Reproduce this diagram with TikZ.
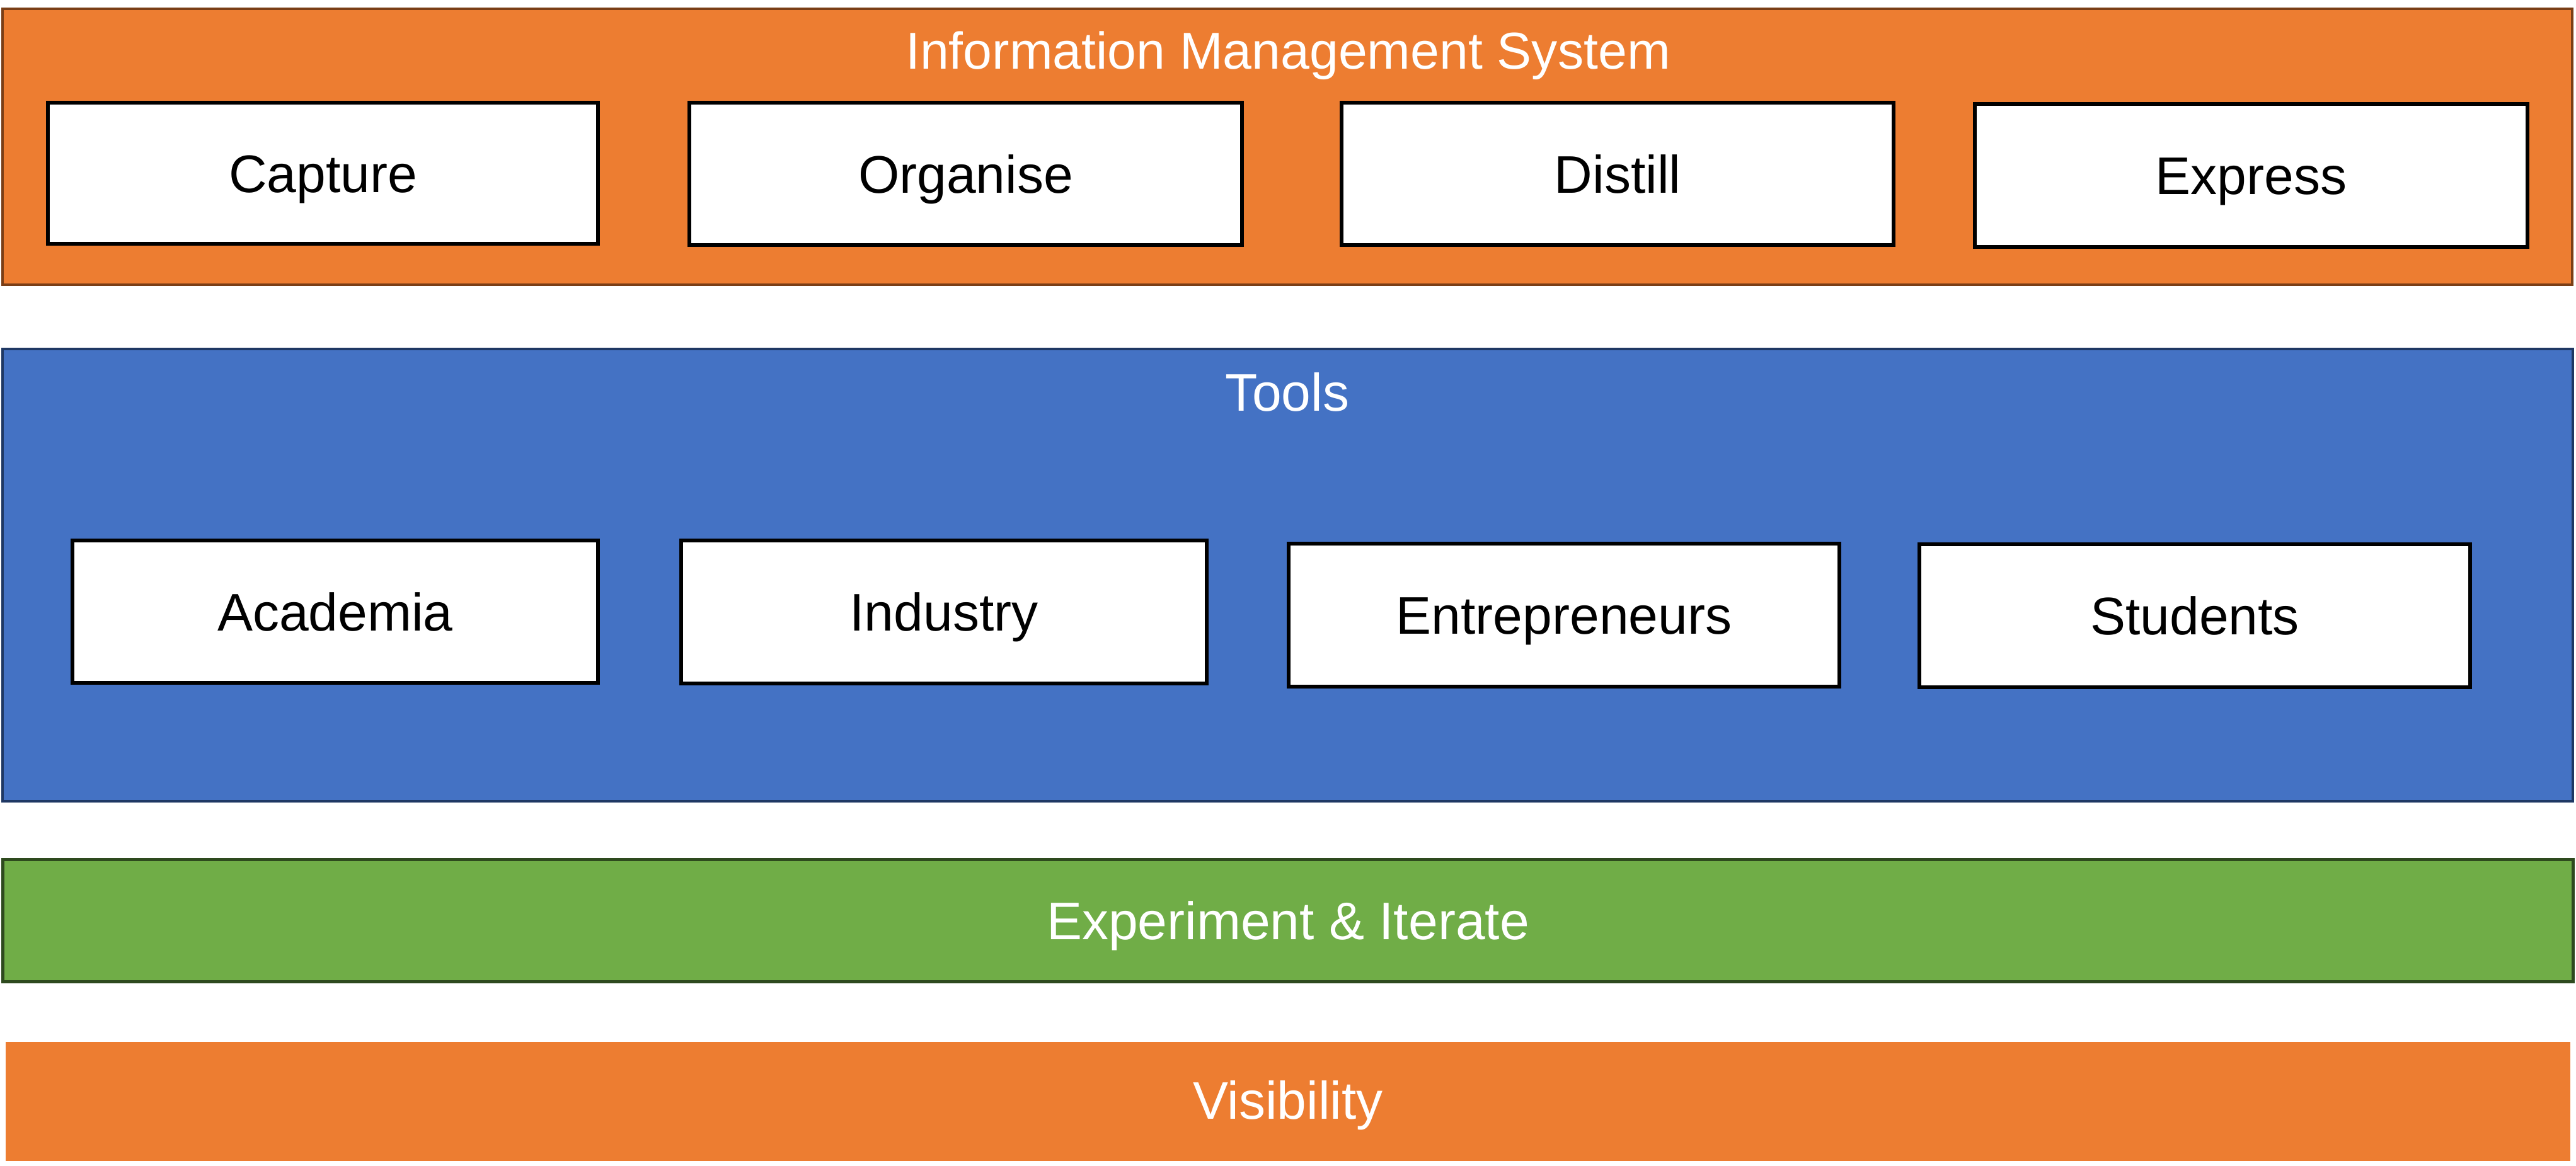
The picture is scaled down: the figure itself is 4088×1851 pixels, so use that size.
\documentclass[tikz,border=0pt]{standalone}
\usepackage{fontspec}
\setmainfont{Liberation Sans}
\usetikzlibrary{fit}
\definecolor{imsorange}{HTML}{ED7D31}
\definecolor{imsborder}{HTML}{7A3E16}
\definecolor{toolblue}{HTML}{4472C4}
\definecolor{toolborder}{HTML}{1F3864}
\definecolor{expgreen}{HTML}{70AD47}
\definecolor{expborder}{HTML}{2E4A1E}
\begin{document}
\begin{tikzpicture}[x=0.25pt,y=-0.25pt,
  every node/.style={font=\fontsize{21}{25}\selectfont},
  panel/.style={inner sep=0pt, rectangle},
  whitebox/.style={draw=black, fill=white, line width=1.3pt, inner sep=0pt,
     text height=15.04pt, text depth=0pt},
  midtext/.style={text=white, inner sep=0pt, text height=15.04pt, text depth=0pt},
  titletext/.style={text=white, anchor=base, inner sep=0pt}
]
\useasboundingbox (0,0) rectangle (4088,1851);
% panels
\node[panel, draw=imsborder, fill=imsorange, line width=1pt, fit={(4,14) (4082,452)}] (ims) {};
\node[panel, draw=toolborder, fill=toolblue, line width=1pt, fit={(4,554) (4083,1272)}] (tools) {};
\node[panel, draw=expborder, fill=expgreen, line width=1.25pt, fit={(4,1364) (4083,1558)}] (exp) {};
\node[panel, fill=imsorange, fit={(9,1654) (4079,1843)}] (vis) {};
% titles
\node[titletext, font=\fontsize{20.6}{25}\selectfont] (imst) at (2044,110) {Information Management System};
\node[titletext] (toolst) at (2043,652) {Tools};
\node[midtext] (expt) at (2044,1461) {Experiment \& Iterate};
\node[midtext] (vist) at (2044,1746) {Visibility};
% IMS boxes
\node[whitebox, minimum width=218.25pt, minimum height=56pt] (capture) at (512.5,275) {Capture};
\node[whitebox, minimum width=219.25pt, minimum height=56.5pt] (organise) at (1532.5,276) {Organise};
\node[whitebox, minimum width=219pt, minimum height=56.5pt] (distill) at (2567,276) {Distill};
\node[whitebox, minimum width=219.25pt, minimum height=56.75pt] (express) at (3572.5,278.5) {Express};
% Tools boxes
\node[whitebox, minimum width=208.5pt, minimum height=56.5pt] (academia) at (532,971) {Academia};
\node[whitebox, minimum width=208.5pt, minimum height=56.75pt] (industry) at (1498,971.5) {Industry};
\node[whitebox, minimum width=218.5pt, minimum height=56.75pt] (entre) at (2482,976.5) {Entrepreneurs};
\node[whitebox, minimum width=218.5pt, minimum height=56.75pt] (students) at (3483,977.5) {Students};
\end{tikzpicture}
\end{document}
